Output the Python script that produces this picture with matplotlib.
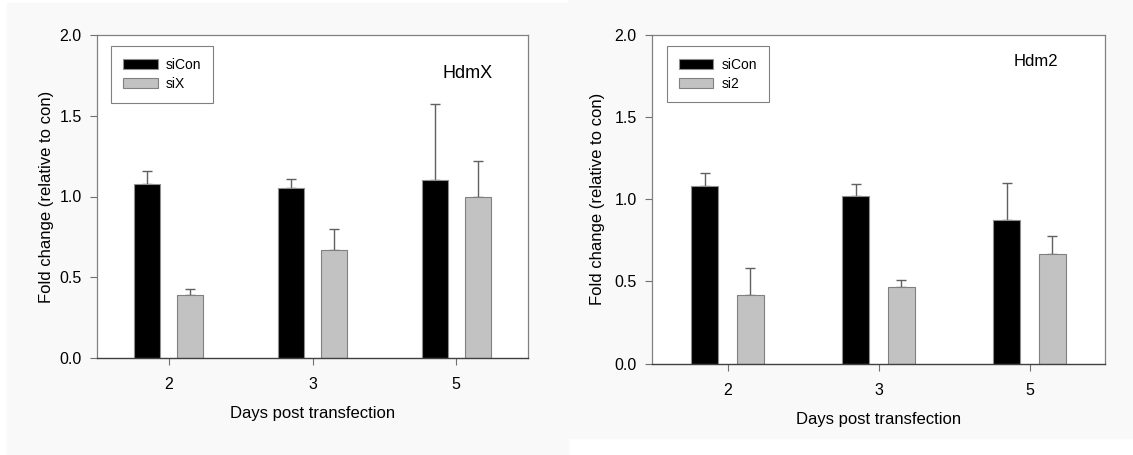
import matplotlib
matplotlib.use("Agg")
import matplotlib.pyplot as plt
from matplotlib.patches import Rectangle

plt.rcParams['font.family'] = ['Liberation Sans', 'DejaVu Sans']

# data
days = ['2', '3', '5']

hdmx_sicon = [1.08, 1.05, 1.10]
hdmx_sicon_err = [0.08, 0.06, 0.47]
hdmx_six = [0.39, 0.67, 1.00]
hdmx_six_err = [0.035, 0.13, 0.22]

hdm2_sicon = [1.08, 1.02, 0.87]
hdm2_sicon_err = [0.08, 0.07, 0.23]
hdm2_si2 = [0.415, 0.465, 0.665]
hdm2_si2_err = [0.165, 0.045, 0.11]

W, H = 1133, 455
fig = plt.figure(figsize=(W / 100, H / 100), dpi=100)
fig.patch.set_facecolor('white')

# the two pasted panels have a faint grey background
def px_rect(x0, y0, x1, y1, color):
    fig.patches.append(Rectangle((x0 / W, 1 - y1 / H), (x1 - x0) / W, (y1 - y0) / H,
                                 transform=fig.transFigure, color=color, zorder=-10))

px_rect(7, 3, 568, 455, '#f9f9f9')
px_rect(568, 0, 1133, 438, '#f9f9f9')


def px_axes(x0, y0, x1, y1):
    return fig.add_axes([x0 / W, 1 - y1 / H, (x1 - x0) / W, (y1 - y0) / H])


def draw_panel(ax, con, con_err, kd, kd_err, kd_label, ypad):
    x = range(len(days))
    xc = [i - 0.15 for i in x]
    xk = [i + 0.15 for i in x]
    ax.bar(xc, con, width=0.18, color='black', edgecolor='#909090', linewidth=0.8,
           label='siCon', zorder=2)
    ax.bar(xk, kd, width=0.18, color='#c2c2c2', edgecolor='#808080', linewidth=0.8,
           label=kd_label, zorder=2)
    ax.errorbar(xc, con, yerr=[[0] * len(con), con_err], fmt='none', ecolor='#606060',
                elinewidth=1, capsize=3.5, capthick=1, zorder=1)
    ax.errorbar(xk, kd, yerr=[[0] * len(kd), kd_err], fmt='none', ecolor='#606060',
                elinewidth=1, capsize=3.5, capthick=1, zorder=1)
    ax.set_xlim(-0.5, 2.5)
    ax.set_ylim(0, 2.0)
    ax.set_xticks(list(x))
    ax.set_xticklabels(days)
    ax.set_yticks([0.0, 0.5, 1.0, 1.5, 2.0])
    ax.set_yticklabels(['0.0', '0.5', '1.0', '1.5', '2.0'])
    ax.tick_params(axis='both', labelsize=11.5, colors='#707070', labelcolor='black',
                   length=5, width=0.8)
    ax.tick_params(axis='x', pad=9)
    ax.tick_params(axis='y', pad=6)
    ax.set_facecolor('white')
    for s in ['left', 'top', 'right']:
        ax.spines[s].set_color('#808080')
        ax.spines[s].set_linewidth(0.9)
    ax.spines['bottom'].set_color('#404040')
    ax.spines['bottom'].set_linewidth(1.0)
    ax.set_xlabel('Days post transfection', fontsize=12, labelpad=10)
    ax.set_ylabel('Fold change (relative to con)', fontsize=12, labelpad=ypad)
    leg = ax.legend(loc='upper left', bbox_to_anchor=(0.033, 0.965), fontsize=10,
                    fancybox=False, edgecolor='#808080', framealpha=1,
                    handlelength=2.5, handleheight=0.7, labelspacing=0.35,
                    borderpad=0.85, handletextpad=0.6, borderaxespad=0)
    leg.get_frame().set_linewidth(0.8)


ax1 = px_axes(97, 35, 528, 358)
draw_panel(ax1, hdmx_sicon, hdmx_sicon_err, hdmx_six, hdmx_six_err, 'siX', 4)
fig.patches.append(Rectangle((424 / W, 1 - 98 / H), 96 / W, 47 / H,
                             transform=fig.transFigure, color='white', zorder=5))
fig.text(468 / W, 1 - 73 / H, 'HdmX', fontsize=13, ha='center', va='center', zorder=6)

ax2 = px_axes(652, 34.5, 1105, 363.7)
draw_panel(ax2, hdm2_sicon, hdm2_sicon_err, hdm2_si2, hdm2_si2_err, 'si2', 7)
ax2.text(1036 / W, 1 - 62 / H, 'Hdm2', fontsize=12, ha='center', va='center',
         transform=fig.transFigure)

fig.savefig('out.png', dpi=100)
